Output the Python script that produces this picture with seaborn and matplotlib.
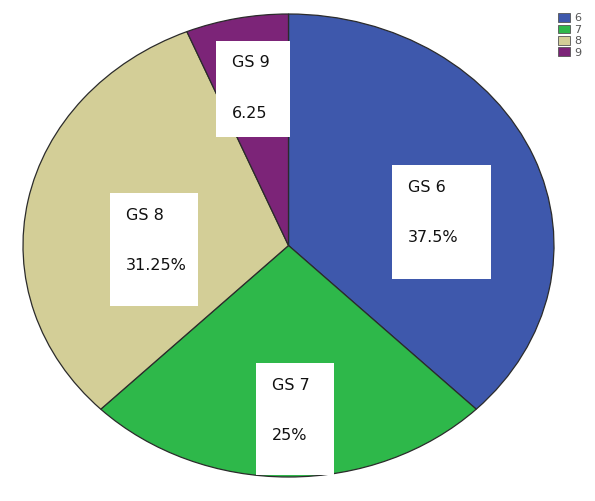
import numpy as np
import matplotlib
matplotlib.use("Agg")
import matplotlib.pyplot as plt
from matplotlib.patches import Rectangle
import seaborn as sns

# data
grades = ["6", "7", "8", "9"]
shares = [37.5, 25.0, 31.25, 6.25]
value_text = ["37.5%", "25%", "31.25%", "6.25"]
colors = ["#3e58ac", "#2eb84a", "#d3ce97", "#7c2478"]

# white label boxes: left, top, width, height (axes fraction)
label_boxes = [
    (0.695, 0.674, 0.186, 0.246),
    (0.439, 0.246, 0.147, 0.242),
    (0.164, 0.613, 0.166, 0.244),
    (0.363, 0.942, 0.139, 0.207),
]

sns.set_style("white")
plt.rcParams["font.family"] = ["DejaVu Sans"]

fig = plt.figure(figsize=(5.95, 5.01), dpi=100)
ax = fig.add_axes([23 / 595, 24 / 501, 531 / 595, 463 / 501])

wedges, _ = ax.pie(
    shares,
    colors=colors,
    startangle=90,
    counterclock=False,
    radius=1,
    wedgeprops=dict(edgecolor="#2b2b2b", linewidth=0.9),
)
ax.set_aspect("auto")
ax.set_xlim(-1, 1)
ax.set_ylim(-1, 1)
ax.axis("off")

for g, v, (x0, top, w, h) in zip(grades, value_text, label_boxes):
    ax.add_patch(Rectangle((x0, top - h), w, h, transform=ax.transAxes,
                           facecolor="white", edgecolor="none", zorder=3))
    ax.annotate(f"GS {g}\n\n{v}", xy=(x0, top), xycoords="axes fraction",
                xytext=(11.5, -10.5), textcoords="offset points",
                ha="left", va="top", fontsize=11.5, linespacing=1.85,
                color="#111111", zorder=4)

leg = fig.legend(
    wedges, grades,
    loc="upper left", bbox_to_anchor=(557 / 595, 1 - 12 / 501),
    frameon=False, fontsize=8, handlelength=1.1, handleheight=0.8,
    handletextpad=0.35, labelspacing=0.12, borderpad=0.1, borderaxespad=0,
    labelcolor="#555555",
)
for hnd in leg.legend_handles:
    hnd.set_edgecolor("#555555")
    hnd.set_linewidth(0.6)

fig.savefig("out.png", dpi=100)
